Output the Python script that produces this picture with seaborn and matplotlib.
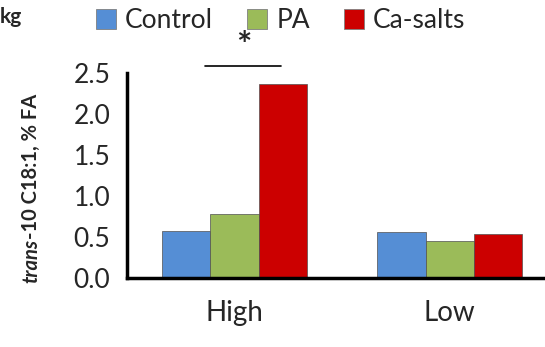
import matplotlib
matplotlib.use("Agg")
import matplotlib.pyplot as plt
import seaborn as sns
import pandas as pd
from matplotlib.patches import Patch

# Data
levels = ["High", "Low"]
treatments = ["Control", "PA", "Ca-salts"]
control = [0.57, 0.56]
pa = [0.78, 0.45]
ca_salts = [2.36, 0.53]
colors = ["#558ED5", "#9BBB59", "#CC0000"]
yticks = [0.0, 0.5, 1.0, 1.5, 2.0, 2.5]

rows = []
for t, vals in zip(treatments, [control, pa, ca_salts]):
    for lvl, v in zip(levels, vals):
        rows.append({"level": lvl, "treatment": t, "value": v})
df = pd.DataFrame(rows)

sns.set_style("white")
plt.rcParams["font.family"] = ["Lato", "DejaVu Sans"]

fig = plt.figure(figsize=(5.45, 3.47), dpi=100)
ax = fig.add_axes([0.233, 0.199, 0.767, 0.591])

sns.barplot(data=df, x="level", y="value", hue="treatment", order=levels,
            hue_order=treatments, palette=colors, width=0.67, gap=0,
            saturation=1, ax=ax, legend=False, edgecolor="#505050", linewidth=0.5)

ax.set_xlim(-0.5, 1.444)
ax.set_ylim(0, 2.5)
ax.set_yticks(yticks)
ax.set_yticklabels([f"{t:.1f}" for t in yticks], fontsize=19)
ax.tick_params(axis="y", direction="out", length=7, width=2.5, color="black", pad=5)
ax.tick_params(axis="x", length=0, labelsize=20, pad=16)
ax.set_xlabel("")
ax.set_ylabel("")
for s in ["top", "right"]:
    ax.spines[s].set_visible(False)
for s in ["left", "bottom"]:
    ax.spines[s].set_color("black")
    ax.spines[s].set_linewidth(2.5)

# y-axis label: italic "trans" followed by the rest, stacked along the rotated baseline
lab_x, lab_y0 = 0.057, 0.185
t1 = fig.text(lab_x, lab_y0, "trans", rotation=90, fontsize=14.5, fontweight="bold",
              fontstyle="italic", ha="center", va="bottom")
fig.canvas.draw()
bb = t1.get_window_extent(fig.canvas.get_renderer())
fig.text(lab_x, lab_y0 + bb.height / fig.bbox.height, "-10 C18:1, % FA", rotation=90,
         fontsize=14.5, fontweight="bold", ha="center", va="bottom")

# significance bracket
ax.plot([-0.137, 0.216], [2.585, 2.585], color="black", lw=1.2, clip_on=False)
ax.text(0.045, 2.62, "*", ha="center", va="bottom", fontsize=26, fontweight="bold")

# legend
handles = [Patch(facecolor=c, edgecolor="#7f7f7f", linewidth=0.6) for c in colors]
fig.legend(handles, treatments, loc="upper center", bbox_to_anchor=(0.515, 1.045),
           ncol=3, frameon=False, fontsize=19, handlelength=0.75, handleheight=0.75,
           handletextpad=0.35, columnspacing=1.3)

fig.text(0.0, 0.952, "kg", fontsize=15, fontweight="bold", ha="left", va="center")

fig.savefig("out.png", dpi=100)
